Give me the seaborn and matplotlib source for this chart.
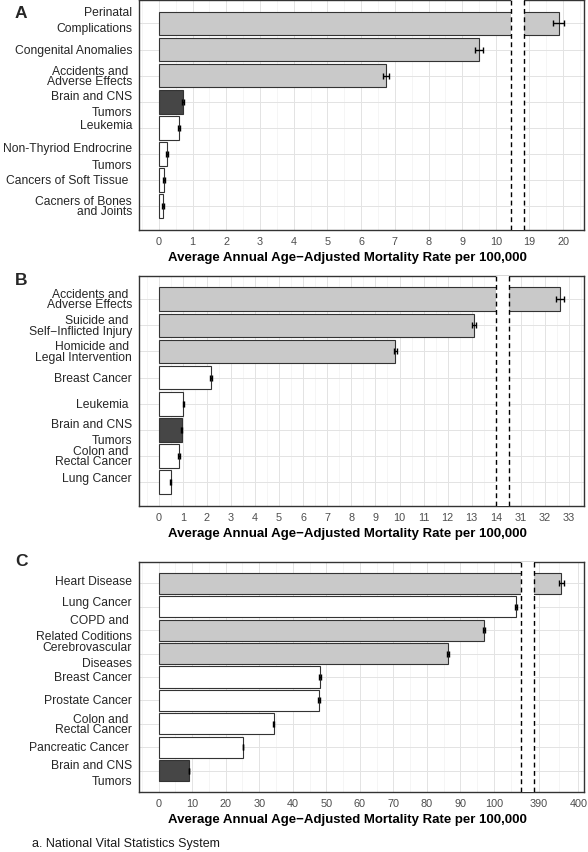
import numpy as np
import matplotlib
matplotlib.use("Agg")
import matplotlib.pyplot as plt
import matplotlib.transforms as mtransforms
import seaborn as sns

sns.set_theme(style="white")
plt.rcParams["font.family"] = ["Liberation Sans", "DejaVu Sans"]

# ---------------------------------------------------------------
# Data
# ---------------------------------------------------------------
A_LABELS = ["Perinatal\nComplications", "Congenital Anomalies", "Accidents and \nAdverse Effects",
            "Brain and CNS\nTumors", "Leukemia", "Non-Thyriod Endrocrine\nTumors",
            "Cancers of Soft Tissue ", "Cacners of Bones\nand Joints"]
A_RATES = [19.87, 9.50, 6.74, 0.70, 0.60, 0.24, 0.15, 0.12]
A_ERR = [0.17, 0.11, 0.08, 0.03, 0.03, 0.02, 0.02, 0.02]
A_GROUP = ["other", "other", "other", "brain", "cancer", "cancer", "cancer", "cancer"]
A_TICKS = [0, 1, 2, 3, 4, 5, 6, 7, 8, 9, 10, 19, 20]

B_LABELS = ["Accidents and \nAdverse Effects", "Suicide and \nSelf\u2212Inflicted Injury",
            "Homicide and \nLegal Intervention", "Breast Cancer", "Leukemia ",
            "Brain and CNS\nTumors", "Colon and \nRectal Cancer", "Lung Cancer"]
B_RATES = [32.63, 13.10, 9.82, 2.17, 1.02, 0.95, 0.85, 0.50]
B_ERR = [0.15, 0.07, 0.06, 0.05, 0.03, 0.03, 0.03, 0.02]
B_GROUP = ["other", "other", "other", "cancer", "cancer", "brain", "cancer", "cancer"]
B_TICKS = [0, 1, 2, 3, 4, 5, 6, 7, 8, 9, 10, 11, 12, 13, 14, 31, 32, 33]

C_LABELS = ["Heart Disease", "Lung Cancer", "COPD and \nRelated Coditions", "Cerebrovascular\nDiseases",
            "Breast Cancer", "Prostate Cancer", "Colon and \nRectal Cancer", "Pancreatic Cancer ",
            "Brain and CNS\nTumors"]
C_RATES = [395.7, 106.5, 97.1, 86.3, 48.2, 47.9, 34.4, 25.2, 9.0]
C_ERR = [0.6, 0.3, 0.3, 0.3, 0.25, 0.3, 0.15, 0.1, 0.05]
C_GROUP = ["other", "cancer", "other", "other", "cancer", "cancer", "cancer", "cancer", "brain"]
C_TICKS = [0, 10, 20, 30, 40, 50, 60, 70, 80, 90, 100, 390, 400]

XLABEL = "Average Annual Age\u2212Adjusted Mortality Rate per 100,000"
NOTE = "a. National Vital Statistics System"

# labels that were typeset with a looser line height in the original
WIDE_LABELS = {"Perinatal\nComplications", "Brain and CNS\nTumors", "Non-Thyriod Endrocrine\nTumors",
               "COPD and \nRelated Coditions", "Cerebrovascular\nDiseases"}
# labels that sit a little above (or below) their tick in the original (pixels)
LABEL_RAISE = {"Perinatal\nComplications": 3.5, "Leukemia": 3.0, "Heart Disease": 2.3,
               "Lung Cancer": 4.5, "COPD and \nRelated Coditions": 2.5, "Cerebrovascular\nDiseases": -1.4,
               "Brain and CNS\nTumors": -2.0, "Non-Thyriod Endrocrine\nTumors": -2.5}

FILL = {"other": "#c9c9c9", "brain": "#464646", "cancer": "#ffffff"}
EDGE = "#333333"


def gap_scale(lo, hi, gap, k):
    """Piecewise axis: identity up to lo, a small gap, then (x - hi) * k."""
    def fwd(x):
        x = np.asarray(x, dtype=float)
        return np.where(x <= lo, x,
                        np.where(x >= hi, lo + gap + (x - hi) * k,
                                 lo + gap * (x - lo) / (hi - lo)))

    def inv(p):
        p = np.asarray(p, dtype=float)
        return np.where(p <= lo, p,
                        np.where(p >= lo + gap, hi + (p - lo - gap) / k,
                                 lo + (p - lo) * (hi - lo) / gap))
    return fwd, inv


panels = [
    dict(letter="A", labels=A_LABELS, rates=A_RATES, err=A_ERR, group=A_GROUP, ticks=A_TICKS,
         brk=(10.45, 18.85, 0.39, 1.0), xlim=(-0.6, 20.62), top=1.0, bottom=230.7, letter_y=13),
    dict(letter="B", labels=B_LABELS, rates=B_RATES, err=B_ERR, group=B_GROUP, ticks=B_TICKS,
         brk=(14.0, 30.5, 0.53, 1.0), xlim=(-0.83, 33.63), top=276.7, bottom=506.7, letter_y=281),
    dict(letter="C", labels=C_LABELS, rates=C_RATES, err=C_ERR, group=C_GROUP, ticks=C_TICKS,
         brk=(108.0, 388.7, 3.84, 1.184), xlim=(-5.96, 401.4), top=563.3, bottom=792.7, letter_y=561),
]

W, H = 588, 853
fig = plt.figure(figsize=(W / 100, H / 100), dpi=100)
left_px, right_px = 138.7, 584.0

for p in panels:
    ax = fig.add_axes([left_px / W, 1 - p["bottom"] / H,
                       (right_px - left_px) / W, (p["bottom"] - p["top"]) / H])
    n = len(p["labels"])
    colors = [FILL[g] for g in p["group"]]

    sns.barplot(x=p["rates"], y=p["labels"], hue=p["labels"], palette=colors, legend=False,
                orient="h", width=0.9, saturation=1, errorbar=None,
                edgecolor=EDGE, linewidth=0.8, ax=ax, zorder=2)
    ax.errorbar(p["rates"], np.arange(n), xerr=p["err"], fmt="none", ecolor="black",
                elinewidth=1.0, capsize=2.5, capthick=1.0, zorder=4)

    lo, hi, gap, k = p["brk"]
    ax.set_xscale("function", functions=gap_scale(lo, hi, gap, k))
    ax.set_xlim(*p["xlim"])
    ax.set_ylim(n - 1 + 0.9, -0.9)

    ticks = p["ticks"]
    ax.set_xticks(ticks)
    ax.set_xticklabels([str(t) for t in ticks])
    step = ticks[1] - ticks[0]
    minor = [t + s for t in ticks for s in (-step / 2, step / 2)]
    minor = sorted({m for m in minor if (m <= lo or m >= hi) and p["xlim"][0] < m < p["xlim"][1]} - set(ticks))
    ax.set_xticks(minor, minor=True)

    ax.set_axisbelow(True)
    ax.grid(which="major", axis="both", color="#e3e3e3", linewidth=0.7)
    ax.grid(which="minor", axis="x", color="#f1f1f1", linewidth=0.5)

    # the break: blank band bounded by dashed lines
    ax.axvspan(lo, hi, color="white", linewidth=0, zorder=3)
    for v in (lo, hi):
        ax.axvline(v, color="black", linewidth=1.0, linestyle=(0, (3.5, 2.5)), zorder=5)

    for s in ax.spines.values():
        s.set_color(EDGE)
        s.set_linewidth(1.0)
    ax.tick_params(axis="both", which="major", length=2.6, width=0.8, color=EDGE, pad=2.2)
    ax.tick_params(axis="x", which="major", labelsize=7.8, labelcolor="#4d4d4d")
    ax.tick_params(axis="y", which="major", labelsize=8.7, labelcolor="#262626")
    ax.tick_params(which="minor", length=0)
    for lab in ax.get_yticklabels():
        txt = lab.get_text()
        lab.set_linespacing(1.45 if txt in WIDE_LABELS else 0.82)
        lab.set_verticalalignment("center")
        raise_px = LABEL_RAISE.get(txt, 0.0)
        if raise_px:
            lab.set_transform(lab.get_transform() +
                              mtransforms.ScaledTranslation(0, raise_px / 100, fig.dpi_scale_trans))

    ax.set_ylabel("")
    ax.set_xlabel(XLABEL, fontsize=9.5, fontweight="bold", color="black")
    ax.xaxis.set_label_coords((347.5 - left_px) / (right_px - left_px),
                              -27.0 / (p["bottom"] - p["top"]))
    ax.xaxis.label.set_verticalalignment("center")

    fig.text(15 / W, 1 - p["letter_y"] / H, p["letter"], fontsize=12.5, fontweight="bold",
             ha="left", va="center")

fig.text(31.7 / W, 1 - 844 / H, NOTE, fontsize=9, ha="left", va="center", color="#1a1a1a")

fig.savefig("out.png", dpi=100)
